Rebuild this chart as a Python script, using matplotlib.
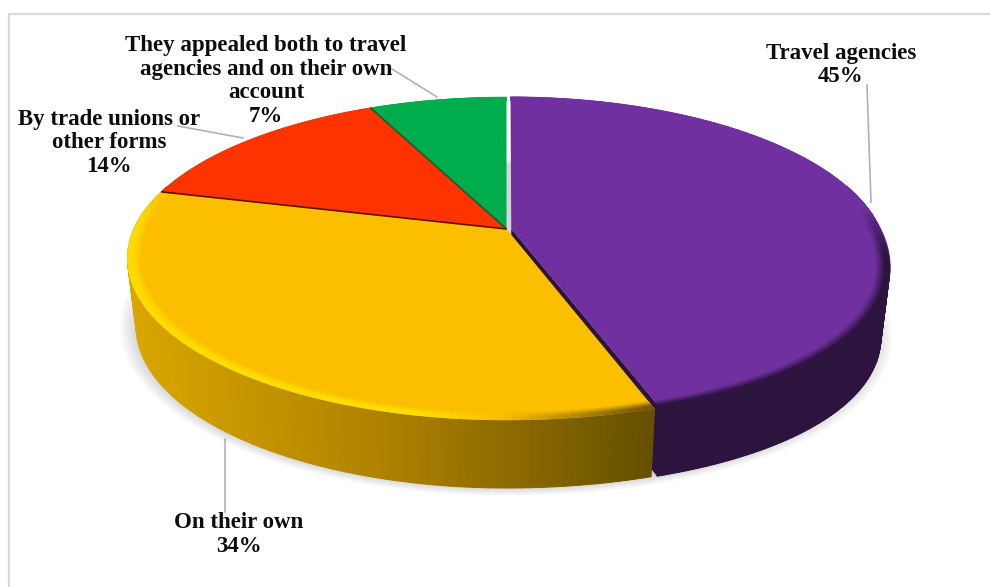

# pie chart with a tilted, extruded look: ax.pie lays out the wedges on a unit circle,
# a perspective transform squashes them and the walls are added as polygons
import numpy as np
import matplotlib
matplotlib.use("Agg")
import matplotlib.pyplot as plt
from matplotlib.collections import PolyCollection
from matplotlib.colors import to_rgb
from matplotlib.transforms import Transform

# chart values
categories = ["Travel agencies", "On their own",
              "By trade unions or\nother forms",
              "They appealed both to travel\nagencies and on their own\naccount"]
shares = [45, 34, 14, 7]
explode = [0.013, 0, 0, 0]

# colours
face_colors = ["#7030a0", "#fbbf00", "#ff3300", "#00ac4c"]
wall_stops = [
    ([655, 890], ["#2c143f", "#2c143f"]),
    ([130, 400, 655], ["#dba600", "#ab7f00", "#655000"]),
    ([150, 510], ["#a02000", "#a02000"]),
    ([370, 510], ["#006c30", "#006c30"]),
]
rim_stops = [
    ([655, 890], ["#2c143f", "#2c143f"]),
    ([125, 420, 500, 650], ["#ffdc00", "#ffe000", "#fbbf00", "#6f5400"]),
    ([150, 510], ["#ff3300", "#ff3300"]),
    ([370, 510], ["#00ac4c", "#00ac4c"]),
]

# label layout, figure pixels: centre x and y of the first line
label_xy = [(841, 53), (239, 523), (109, 119), (266, 45)]
LINE_STEP = 24
leaders = [
    ([867, 871], [85, 202]),
    ([225, 225], [439, 512]),
    ([178, 243], [126, 138]),
    ([392, 437], [69, 97]),
]

# projection of the unit circle to pixels
CX, CY = 506.5, 229
K = 0.1827
AY = 156.1
BX = 379 * np.sqrt(1 - K**2)
BULGE = 35
DEPTH = 68
SHRINK = 0.977


class Tilt(Transform):
    input_dims = 2
    output_dims = 2
    is_affine = False
    has_inverse = False

    def transform_non_affine(self, values):
        values = np.asarray(values, dtype=float)
        u, v = values[:, 0], values[:, 1]
        w = 1 + K * v
        # right half is a touch narrower, the near right quadrant swells a little
        scale = np.where(u > 0, 0.99, 1.0)
        swell = np.where((u > 0) & (v < 0), BULGE * u * np.abs(v) ** 1.5, 0.0)
        return np.column_stack([CX + BX * scale * u / w + swell, CY - AY * v / w])


tilt = Tilt()


def arc(center, radius, t0, t1, n):
    t = np.radians(np.linspace(t0, t1, n))
    pts = np.column_stack([center[0] + radius * np.cos(t), center[1] + radius * np.sin(t)])
    return tilt.transform_non_affine(pts)


def extrude(pts):
    # lower edge of the disc, a bit narrower because it is further from the viewer
    return np.column_stack([CX + SHRINK * (pts[:, 0] - CX), pts[:, 1] + DEPTH])


def ramp(x, stops):
    xs, cols = stops
    rgb = np.array([to_rgb(c) for c in cols])
    return np.clip(np.column_stack([np.interp(x, xs, rgb[:, i]) for i in range(3)]), 0, 1)


fig = plt.figure(figsize=(9.9, 5.87), dpi=100)
ax = fig.add_axes([0, 0, 1, 1])

wedges, _ = ax.pie(shares, explode=explode, colors=face_colors, startangle=90, counterclock=False)
ax.set_aspect("auto")
ax.set_xlim(0, 990)
ax.set_ylim(587, 0)
ax.axis("off")

# soft shadow under the disc
full = arc((0, 0), 1.0, 0, 360, 240)
low = extrude(full)
for s in np.linspace(1.045, 1.0, 14):
    ring = np.column_stack([CX + s * (low[:, 0] - CX), low[:, 1].mean() + s * (low[:, 1] - low[:, 1].mean())])
    ax.fill(ring[:, 0], ring[:, 1], color="black", alpha=0.011, lw=0, zorder=1)

for i, w in enumerate(wedges):
    w.set_transform(tilt + ax.transData)
    w.set_zorder(3)
    w.set_linewidth(0)
    t0, t1 = sorted((w.theta1, w.theta2))
    n = max(int(t1 - t0), 4)
    tt = np.linspace(t0, t1, n)
    sin_t = np.sin(np.radians(tt))

    # outer wall, only the part facing the viewer
    # one solid piece goes first so the strips leave no seams
    front = sin_t < 0.3
    if front.sum() > 1:
        top = arc(w.center, 1.0, t0, t1, n)[front]
        bot = extrude(top)
        cols = ramp((top[:-1, 0] + top[1:, 0]) / 2, wall_stops[i])
        outline = np.vstack([top, bot[::-1]])
        ax.fill(outline[:, 0], outline[:, 1], color=cols[len(cols) // 2], lw=0, zorder=2)
        quads = [[top[j], top[j + 1], bot[j + 1], bot[j]] for j in range(len(top) - 1)]
        ax.add_collection(PolyCollection(quads, facecolors=cols, edgecolors=cols, linewidths=0.7, zorder=2))

    # cut face of the pulled out wedge
    if explode[i] > 0:
        corner = arc(w.center, 1.0, t0, t0, 1)
        apex = tilt.transform_non_affine(np.array([w.center]))
        cut = np.vstack([apex, corner, extrude(corner), extrude(apex)])
        ax.fill(cut[:, 0], cut[:, 1], color=wall_stops[i][1][0], lw=0, zorder=2)

    # rim shading on the top face, fades out towards the back of the disc
    base = np.array(to_rgb(face_colors[i]))
    radii = np.linspace(0.965, 1.0, 8)
    fade = np.clip((0.15 - sin_t) / 0.3, 0, 1)
    if i == 1:
        fade = np.clip((0.32 - sin_t) / 0.32, 0, 1)
    polys, colors = [], []
    for r_in, r_out in zip(radii[:-1], radii[1:]):
        inner = arc(w.center, r_in, t0, t1, n)
        outer = arc(w.center, r_out, t0, t1, n)
        weight = ((r_in + r_out) / 2 - radii[0]) / (radii[-1] - radii[0])
        weight = min(weight * 1.5, 1.0)
        rim = ramp((outer[:-1, 0] + outer[1:, 0]) / 2, rim_stops[i])
        for j in range(n - 1):
            a = weight * (fade[j] + fade[j + 1]) / 2
            polys.append([inner[j], inner[j + 1], outer[j + 1], outer[j]])
            colors.append(np.clip(base * (1 - a) + rim[j] * a, 0, 1))
    ax.add_collection(PolyCollection(polys, facecolors=colors, edgecolors=colors, linewidths=0.4, zorder=4))

# dark seams either side of the red slice
seam_colors = ["#1c5a30", "#5a1400"]
red = wedges[2]
for theta, c in zip(sorted((red.theta1, red.theta2)), seam_colors):
    line = np.vstack([tilt.transform_non_affine(np.array([red.center])), arc(red.center, 1.0, theta, theta, 1)])
    ax.plot(line[:, 0], line[:, 1], color=c, lw=1.2, solid_capstyle="butt", zorder=5)

# frame on the top and left
ax.plot([9, 9, 990], [587, 14, 14], color="#d9d9d9", lw=1.6, zorder=0)

# leader lines
for xs, ys in leaders:
    ax.plot(xs, ys, color="#b2b2b2", lw=1.2, zorder=5)

# labels, one text per line so the block of one label stays clear of its neighbour
for name, share, (x, y) in zip(categories, shares, label_xy):
    rows = name.split("\n") + ["{}%".format(share)]
    for k, row in enumerate(rows):
        ax.text(x, y + k * LINE_STEP, row, ha="center", va="center", fontsize=16.5,
                family="Liberation Serif", fontweight="bold", color="#0d0d0d", zorder=6)

fig.savefig("out.png", dpi=100)
